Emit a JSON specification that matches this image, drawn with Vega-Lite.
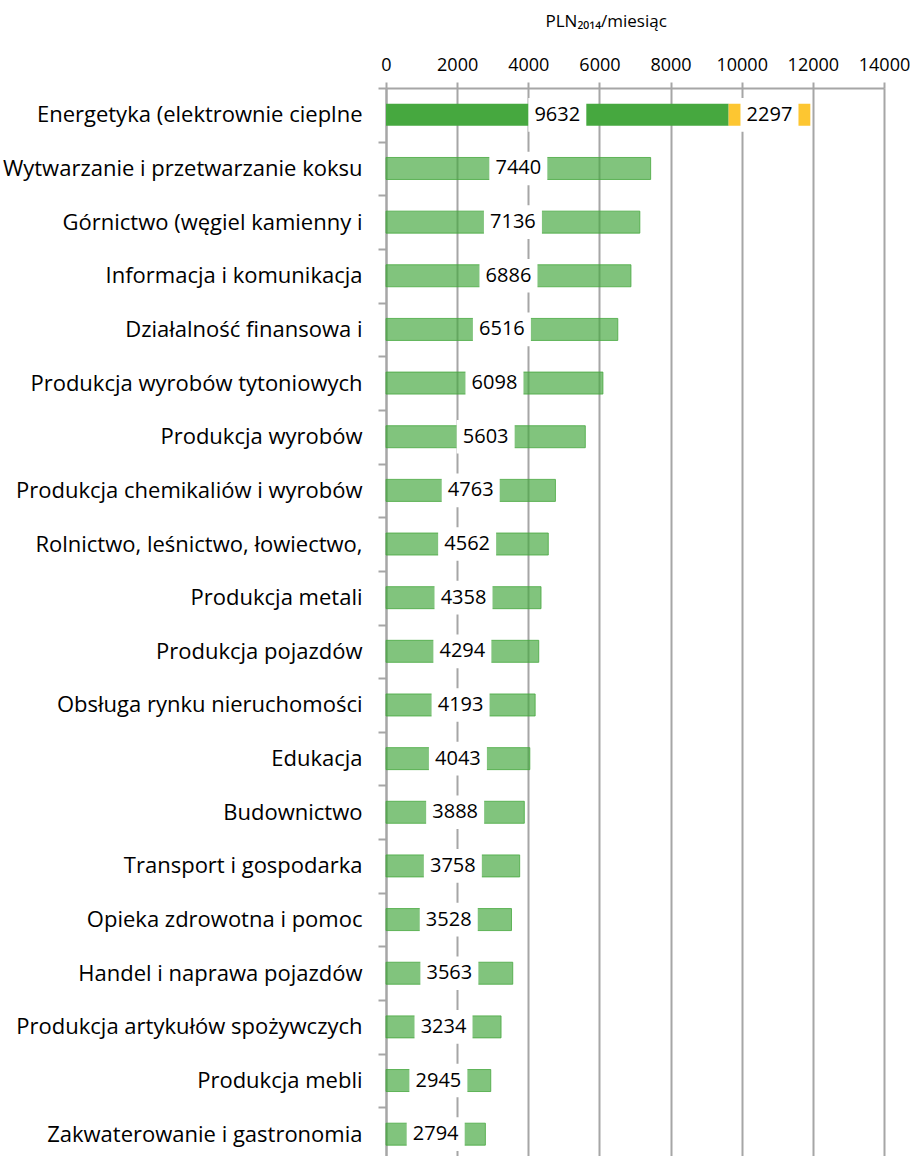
{
  "$schema": "https://vega.github.io/schema/vega-lite/v6.json",
  "autosize": {"type": "none"},
  "padding": {"left": 386, "top": 88, "right": 29, "bottom": 0},
  "width": 498,
  "height": 1068,
  "background": "white",
  "config": {
    "view": {"stroke": null},
    "font": "Open Sans"
  },
  "data": {
    "values": [
      {"sector": "Energetyka (elektrownie cieplne", "series": "dark", "start": 0, "end": 9632, "label": 9632},
      {"sector": "Energetyka (elektrownie cieplne", "series": "yellow", "start": 9632, "end": 11929, "label": 2297},
      {"sector": "Wytwarzanie i przetwarzanie koksu", "series": "main", "start": 0, "end": 7440, "label": 7440},
      {"sector": "Górnictwo (węgiel kamienny i", "series": "main", "start": 0, "end": 7136, "label": 7136},
      {"sector": "Informacja i komunikacja", "series": "main", "start": 0, "end": 6886, "label": 6886},
      {"sector": "Działalność finansowa i", "series": "main", "start": 0, "end": 6516, "label": 6516},
      {"sector": "Produkcja wyrobów tytoniowych", "series": "main", "start": 0, "end": 6098, "label": 6098},
      {"sector": "Produkcja wyrobów", "series": "main", "start": 0, "end": 5603, "label": 5603},
      {"sector": "Produkcja chemikaliów i wyrobów", "series": "main", "start": 0, "end": 4763, "label": 4763},
      {"sector": "Rolnictwo, leśnictwo, łowiectwo,", "series": "main", "start": 0, "end": 4562, "label": 4562},
      {"sector": "Produkcja metali", "series": "main", "start": 0, "end": 4358, "label": 4358},
      {"sector": "Produkcja pojazdów", "series": "main", "start": 0, "end": 4294, "label": 4294},
      {"sector": "Obsługa rynku nieruchomości", "series": "main", "start": 0, "end": 4193, "label": 4193},
      {"sector": "Edukacja", "series": "main", "start": 0, "end": 4043, "label": 4043},
      {"sector": "Budownictwo", "series": "main", "start": 0, "end": 3888, "label": 3888},
      {"sector": "Transport i gospodarka", "series": "main", "start": 0, "end": 3758, "label": 3758},
      {"sector": "Opieka zdrowotna i pomoc", "series": "main", "start": 0, "end": 3528, "label": 3528},
      {"sector": "Handel i naprawa pojazdów", "series": "main", "start": 0, "end": 3563, "label": 3563},
      {"sector": "Produkcja artykułów spożywczych", "series": "main", "start": 0, "end": 3234, "label": 3234},
      {"sector": "Produkcja mebli", "series": "main", "start": 0, "end": 2945, "label": 2945},
      {"sector": "Zakwaterowanie i gastronomia", "series": "main", "start": 0, "end": 2794, "label": 2794}
    ]
  },
  "encoding": {
    "y": {
      "field": "sector",
      "type": "nominal",
      "sort": [
        "Energetyka (elektrownie cieplne",
        "Wytwarzanie i przetwarzanie koksu",
        "Górnictwo (węgiel kamienny i",
        "Informacja i komunikacja",
        "Działalność finansowa i",
        "Produkcja wyrobów tytoniowych",
        "Produkcja wyrobów",
        "Produkcja chemikaliów i wyrobów",
        "Rolnictwo, leśnictwo, łowiectwo,",
        "Produkcja metali",
        "Produkcja pojazdów",
        "Obsługa rynku nieruchomości",
        "Edukacja",
        "Budownictwo",
        "Transport i gospodarka",
        "Opieka zdrowotna i pomoc",
        "Handel i naprawa pojazdów",
        "Produkcja artykułów spożywczych",
        "Produkcja mebli",
        "Zakwaterowanie i gastronomia"
      ],
      "scale": {"range": [0, 1073], "paddingInner": 0, "paddingOuter": 0},
      "axis": {
        "title": null,
        "tickBand": "extent",
        "domainColor": "#a6a6a6",
        "domainWidth": 2,
        "tickColor": "#a6a6a6",
        "tickWidth": 2,
        "tickSize": 8,
        "labelPadding": 16,
        "labelFontSize": 22,
        "labelColor": "#000000",
        "labelFont": "Open Sans",
        "labelLimit": 400,
        "grid": false
      }
    }
  },
  "layer": [
    {
      "transform": [{"filter": "datum.series == 'main'"}],
      "mark": {"type": "bar", "size": 22, "fill": "#46a83f", "fillOpacity": 0.68, "stroke": "#46a83f", "strokeOpacity": 0.8, "strokeWidth": 1},
      "encoding": {
        "x": {
          "field": "start",
          "type": "quantitative",
          "scale": {"domain": [0, 14000], "nice": false},
          "axis": {
            "orient": "top",
            "values": [0, 2000, 4000, 6000, 8000, 10000, 12000, 14000],
            "format": "d",
            "title": "PLN₂₀₁₄/miesiąc",
            "titleFont": "Open Sans",
            "titleFontSize": 17,
            "titleFontWeight": "normal",
            "titleColor": "#000000",
            "titleAnchor": "start",
            "titleAlign": "left",
            "titleX": 159,
            "titleY": -62,
            "titleBaseline": "alphabetic",
            "domainColor": "#a6a6a6",
            "domainWidth": 2,
            "tickColor": "#a6a6a6",
            "tickWidth": 2,
            "tickSize": 6,
            "labelPadding": 8,
            "labelFontSize": 18,
            "labelColor": "#000000",
            "labelFlush": false,
            "grid": true,
            "gridColor": "#a6a6a6",
            "gridWidth": 2
          }
        },
        "x2": {"field": "end"}
      }
    },
    {
      "transform": [{"filter": "datum.series != 'main'"}],
      "mark": {"type": "bar", "size": 22},
      "encoding": {
        "x": {"field": "start", "type": "quantitative"},
        "x2": {"field": "end"},
        "color": {
          "field": "series",
          "type": "nominal",
          "scale": {"domain": ["dark", "yellow"], "range": ["#46a83f", "#fdc631"]},
          "legend": null
        }
      }
    },
    {
      "transform": [
        {"fold": ["start", "end"], "as": ["edge", "pos"]},
        {"aggregate": [{"op": "mean", "field": "pos", "as": "mid"}], "groupby": ["sector", "series", "label"]}
      ],
      "layer": [
        {
          "mark": {"type": "point", "shape": "M-1,-0.58H1V0.58H-1Z", "size": 3364, "filled": true, "fill": "white", "opacity": 1, "strokeWidth": 0},
          "encoding": {
            "x": {"field": "mid", "type": "quantitative"}
          }
        },
        {
          "mark": {"type": "text", "fontSize": 20, "color": "#000000", "align": "center", "baseline": "middle"},
          "encoding": {
            "x": {"field": "mid", "type": "quantitative"},
            "text": {"field": "label", "type": "quantitative", "format": "d"}
          }
        }
      ]
    }
  ]
}
